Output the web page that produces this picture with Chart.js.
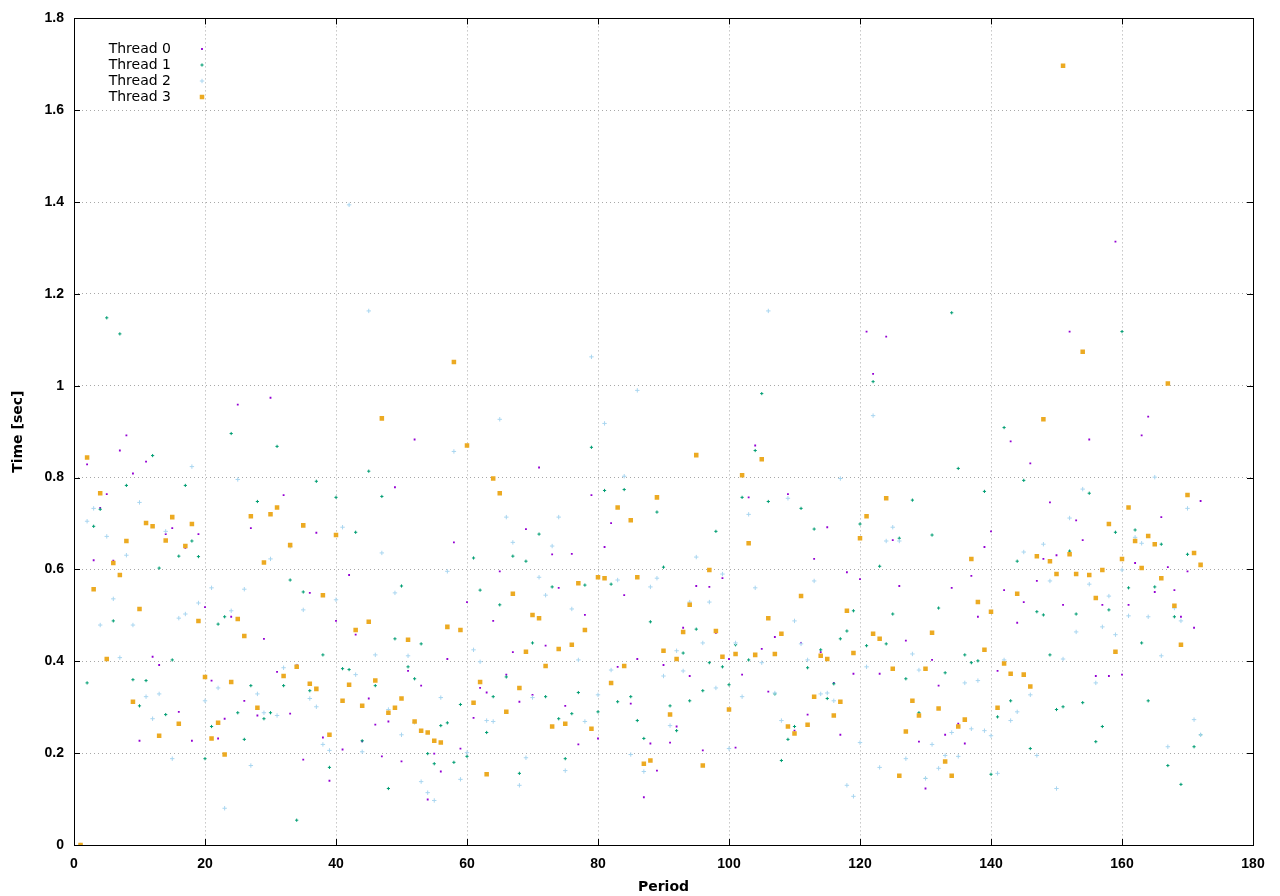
<!DOCTYPE html>
<html>
<head>
<meta charset="utf-8">
<script src="https://cdn.jsdelivr.net/npm/chart.js"></script>
<style>
  html, body { margin: 0; padding: 0; background: #fff; }
  #wrap { width: 1280px; height: 896px; }
</style>
</head>
<body>
<div id="wrap"><canvas id="chart" width="1280" height="896"></canvas></div>
<script>
// period numbers 1..172 (x positions)
const periods = Array.from({ length: 172 }, (_, i) => i + 1);

// time per period [sec]
const thread0 = [
  0, 0.829, 0.620, 0.734, 0.764, 0.619, 0.859, 0.892, 0.809, 0.227, 0.835, 0.410, 0.392, 0.677, 0.690, 0.290, 0.647, 0.227, 0.677, 0.518,
  0.358, 0.232, 0.275, 0.497, 0.959, 0.314, 0.690, 0.282, 0.449, 0.974, 0.377, 0.762, 0.286, 0.392, 0.186, 0.549, 0.680, 0.234, 0.140, 0.488,
  0.208, 0.588, 0.458, 0.226, 0.319, 0.262, 0.193, 0.269, 0.779, 0.182, 0.379, 0.883, 0.347, 0.099, 0.199, 0.160, 0.405, 0.659, 0.210, 0.529,
  0.277, 0.342, 0.332, 0.488, 0.596, 0.371, 0.420, 0.312, 0.688, 0.327, 0.822, 0.434, 0.633, 0.560, 0.303, 0.634, 0.219, 0.501, 0.762, 0.232,
  0.649, 0.701, 0.388, 0.544, 0.308, 0.405, 0.104, 0.221, 0.162, 0.392, 0.223, 0.258, 0.473, 0.368, 0.564, 0.206, 0.562, 0.462, 0.581, 0.405,
  0.212, 0.371, 0.757, 0.870, 0.427, 0.334, 0.453, 0.457, 0.764, 0.249, 0.440, 0.284, 0.623, 0.420, 0.692, 0.353, 0.240, 0.594, 0.373, 0.579,
  1.118, 1.026, 0.373, 1.107, 0.664, 0.564, 0.445, 0.311, 0.225, 0.123, 0.403, 0.347, 0.240, 0.560, 0.264, 0.221, 0.586, 0.497, 0.649, 0.683,
  0.379, 0.555, 0.879, 0.484, 0.529, 0.831, 0.575, 0.623, 0.746, 0.631, 0.523, 1.118, 0.707, 0.664, 0.883, 0.368, 0.523, 0.368, 1.314, 0.371,
  0.523, 0.614, 0.892, 0.933, 0.551, 0.714, 0.605, 0.555, 0.497, 0.596, 0.473, 0.749
];
const thread1 = [
  0, 0.353, 0.694, 0.731, 1.148, 0.488, 1.113, 0.783, 0.360, 0.303, 0.358, 0.848, 0.603, 0.284, 0.403, 0.629, 0.783, 0.662, 0.628, 0.188,
  0.258, 0.481, 0.497, 0.896, 0.288, 0.230, 0.347, 0.748, 0.275, 0.288, 0.868, 0.347, 0.577, 0.054, 0.551, 0.336, 0.792, 0.414, 0.169, 0.757,
  0.384, 0.382, 0.681, 0.227, 0.814, 0.347, 0.759, 0.123, 0.449, 0.564, 0.388, 0.362, 0.438, 0.199, 0.177, 0.260, 0.266, 0.180, 0.306, 0.193,
  0.625, 0.555, 0.245, 0.323, 0.523, 0.366, 0.629, 0.156, 0.618, 0.440, 0.677, 0.323, 0.562, 0.275, 0.188, 0.286, 0.332, 0.566, 0.866, 0.290,
  0.772, 0.568, 0.312, 0.774, 0.323, 0.271, 0.232, 0.486, 0.725, 0.605, 0.303, 0.249, 0.418, 0.314, 0.470, 0.336, 0.397, 0.683, 0.388, 0.349,
  0.436, 0.757, 0.403, 0.859, 0.983, 0.748, 0.329, 0.184, 0.230, 0.258, 0.733, 0.386, 0.688, 0.425, 0.319, 0.351, 0.449, 0.466, 0.510, 0.699,
  0.434, 1.009, 0.607, 0.438, 0.503, 0.668, 0.362, 0.751, 0.288, 0.145, 0.675, 0.516, 0.375, 1.159, 0.820, 0.414, 0.397, 0.401, 0.770, 0.154,
  0.279, 0.909, 0.314, 0.618, 0.794, 0.210, 0.508, 0.501, 0.414, 0.295, 0.301, 0.640, 0.503, 0.310, 0.766, 0.225, 0.258, 0.512, 0.681, 1.118,
  0.560, 0.686, 0.440, 0.314, 0.562, 0.655, 0.173, 0.497, 0.132, 0.633, 0.214, 0.240
];
const thread2 = [
  0, 0.705, 0.733, 0.479, 0.672, 0.536, 0.408, 0.631, 0.479, 0.746, 0.323, 0.275, 0.329, 0.683, 0.188, 0.494, 0.503, 0.824, 0.527, 0.314,
  0.560, 0.342, 0.080, 0.510, 0.796, 0.557, 0.173, 0.329, 0.288, 0.623, 0.282, 0.386, 0.650, 0.390, 0.512, 0.319, 0.301, 0.219, 0.206, 0.534,
  0.692, 1.394, 0.371, 0.203, 1.163, 0.414, 0.636, 0.295, 0.549, 0.240, 0.412, 0.267, 0.138, 0.114, 0.097, 0.321, 0.596, 0.857, 0.143, 0.201,
  0.425, 0.399, 0.271, 0.269, 0.927, 0.714, 0.659, 0.130, 0.190, 0.321, 0.583, 0.544, 0.651, 0.714, 0.162, 0.514, 0.403, 0.269, 1.063, 0.327,
  0.918, 0.381, 0.577, 0.803, 0.197, 0.990, 0.160, 0.562, 0.581, 0.368, 0.260, 0.423, 0.379, 0.529, 0.627, 0.440, 0.529, 0.342, 0.590, 0.210,
  0.440, 0.323, 0.720, 0.560, 0.397, 1.163, 0.331, 0.271, 0.755, 0.488, 0.438, 0.403, 0.575, 0.329, 0.331, 0.314, 0.798, 0.130, 0.106, 0.223,
  0.388, 0.935, 0.169, 0.662, 0.692, 0.662, 0.188, 0.416, 0.381, 0.145, 0.219, 0.167, 0.195, 0.245, 0.193, 0.353, 0.253, 0.358, 0.249, 0.238,
  0.156, 0.403, 0.271, 0.290, 0.638, 0.327, 0.195, 0.655, 0.575, 0.123, 0.405, 0.712, 0.464, 0.775, 0.568, 0.353, 0.475, 0.542, 0.458, 0.599,
  0.499, 0.670, 0.657, 0.497, 0.801, 0.412, 0.214, 0.516, 0.488, 0.733, 0.273, 0.240
];
const thread3 = [
  0, 0.844, 0.557, 0.766, 0.405, 0.614, 0.588, 0.662, 0.312, 0.514, 0.701, 0.694, 0.238, 0.663, 0.714, 0.264, 0.651, 0.699, 0.488, 0.366,
  0.232, 0.266, 0.197, 0.355, 0.492, 0.455, 0.716, 0.299, 0.615, 0.720, 0.735, 0.368, 0.653, 0.388, 0.696, 0.351, 0.340, 0.544, 0.240, 0.675,
  0.314, 0.349, 0.468, 0.303, 0.486, 0.358, 0.929, 0.288, 0.299, 0.319, 0.447, 0.269, 0.249, 0.245, 0.227, 0.223, 0.475, 1.052, 0.468, 0.870,
  0.310, 0.355, 0.154, 0.798, 0.766, 0.290, 0.547, 0.342, 0.421, 0.501, 0.494, 0.390, 0.258, 0.427, 0.264, 0.436, 0.570, 0.468, 0.253, 0.583,
  0.581, 0.353, 0.735, 0.390, 0.707, 0.583, 0.177, 0.184, 0.757, 0.423, 0.284, 0.405, 0.464, 0.523, 0.849, 0.173, 0.599, 0.466, 0.410, 0.295,
  0.416, 0.805, 0.657, 0.414, 0.840, 0.494, 0.416, 0.460, 0.258, 0.243, 0.542, 0.262, 0.323, 0.412, 0.405, 0.282, 0.312, 0.510, 0.418, 0.668,
  0.716, 0.460, 0.449, 0.755, 0.384, 0.151, 0.247, 0.314, 0.282, 0.384, 0.462, 0.297, 0.182, 0.151, 0.258, 0.273, 0.623, 0.529, 0.425, 0.508,
  0.299, 0.395, 0.373, 0.547, 0.371, 0.345, 0.629, 0.927, 0.618, 0.590, 1.697, 0.633, 0.590, 1.074, 0.588, 0.538, 0.599, 0.699, 0.421, 0.623,
  0.735, 0.662, 0.603, 0.673, 0.655, 0.581, 1.005, 0.521, 0.436, 0.762, 0.636, 0.610
];

const threadLabels = ['Thread 0', 'Thread 1', 'Thread 2', 'Thread 3'];
const xTicks = [0, 20, 40, 60, 80, 100, 120, 140, 160, 180];
const yTicks = [0, 0.2, 0.4, 0.6, 0.8, 1, 1.2, 1.4, 1.6, 1.8];

const series = [thread0, thread1, thread2, thread3];
const styles = [
  { pointStyle: 'rect',  pointRadius: 1.3, backgroundColor: '#9400d3', borderColor: '#9400d3', pointBorderWidth: 0 },
  { pointStyle: 'cross', pointRadius: 1.6, backgroundColor: '#009e73', borderColor: '#009e73', pointBorderWidth: 1 },
  { pointStyle: 'cross', pointRadius: 2.2, backgroundColor: '#a9d6f0', borderColor: '#a9d6f0', pointBorderWidth: 1 },
  { pointStyle: 'rect',  pointRadius: 3.2, backgroundColor: '#ecaa22', borderColor: '#ecaa22', pointBorderWidth: 0 }
];

const sans = "'DejaVu Sans', 'Liberation Sans', Arial, sans-serif";
Chart.defaults.font.family = "'Liberation Sans', Arial, sans-serif";
Chart.defaults.font.size = 14;
Chart.defaults.color = '#000';

// gnuplot style box with inward ticks on all four sides
const frame = {
  id: 'frame',
  afterDatasetsDraw(chart) {
    const { ctx, chartArea: a, scales } = chart;
    ctx.save();
    ctx.strokeStyle = '#000';
    ctx.lineWidth = 1;
    ctx.beginPath();
    scales.x.ticks.forEach(t => {
      const px = Math.round(scales.x.getPixelForValue(t.value)) + 0.5;
      ctx.moveTo(px, a.bottom); ctx.lineTo(px, a.bottom - 6);
      ctx.moveTo(px, a.top); ctx.lineTo(px, a.top + 6);
    });
    scales.y.ticks.forEach(t => {
      const py = Math.round(scales.y.getPixelForValue(t.value)) + 0.5;
      ctx.moveTo(a.left, py); ctx.lineTo(a.left + 6, py);
      ctx.moveTo(a.right, py); ctx.lineTo(a.right - 6, py);
    });
    ctx.stroke();
    ctx.strokeRect(Math.round(a.left) + 0.5, Math.round(a.top) + 0.5,
      Math.round(a.right - a.left), Math.round(a.bottom - a.top));
    ctx.restore();
  }
};

// key in the upper left corner, text right-justified, sample to the right
const key = {
  id: 'key',
  afterDraw(chart) {
    const { ctx } = chart;
    ctx.save();
    ctx.font = '14px ' + sans;
    ctx.textAlign = 'right';
    ctx.textBaseline = 'middle';
    chart.data.datasets.forEach((ds, i) => {
      const y = 49 + i * 16;
      ctx.fillStyle = '#000';
      ctx.fillText(ds.label, 171, y);
      ctx.fillStyle = ds.backgroundColor;
      ctx.strokeStyle = ds.borderColor;
      ctx.lineWidth = ds.pointBorderWidth || 1;
      if (Chart.helpers && Chart.helpers.drawPoint) {
        Chart.helpers.drawPoint(ctx, { pointStyle: ds.pointStyle, radius: ds.pointRadius, rotation: 0, borderWidth: ds.pointBorderWidth }, 202, y);
      }
    });
    ctx.restore();
  }
};

new Chart(document.getElementById('chart'), {
  type: 'scatter',
  data: {
    datasets: series.map((vals, i) => ({
      label: threadLabels[i],
      data: periods.map((p, j) => ({ x: p, y: vals[j] })),
      order: 3 - i,
      ...styles[i]
    }))
  },
  options: {
    responsive: false,
    animation: false,
    events: [],
    layout: { padding: { left: 0, top: 16, right: 27, bottom: 0 } },
    plugins: { legend: { display: false }, tooltip: { enabled: false } },
    scales: {
      x: {
        type: 'linear',
        min: 0, max: 180,
        afterFit: s => { s.height = 51; },
        afterBuildTicks: s => { s.ticks = xTicks.map(v => ({ value: v })); },
        ticks: { padding: 11, font: { weight: 'bold' }, callback: v => String(v) },
        grid: { color: '#a8a8a8', drawTicks: false },
        border: { display: false, dash: [1, 3] },
        title: { display: true, text: 'Period', font: { family: sans, weight: 'bold' }, padding: { top: 0, bottom: 0 } }
      },
      y: {
        min: 0, max: 1.8,
        afterFit: s => { s.width = 74; },
        afterBuildTicks: s => { s.ticks = yTicks.map(v => ({ value: v })); },
        ticks: { padding: 10, font: { weight: 'bold' }, callback: v => String(+v.toFixed(1)) },
        grid: { color: '#a8a8a8', drawTicks: false },
        border: { display: false, dash: [1, 3] },
        title: { display: true, text: 'Time [sec]', font: { family: sans, weight: 'bold' }, padding: { top: 10, bottom: 0 } }
      }
    }
  },
  plugins: [frame, key]
});
</script>
</body>
</html>
